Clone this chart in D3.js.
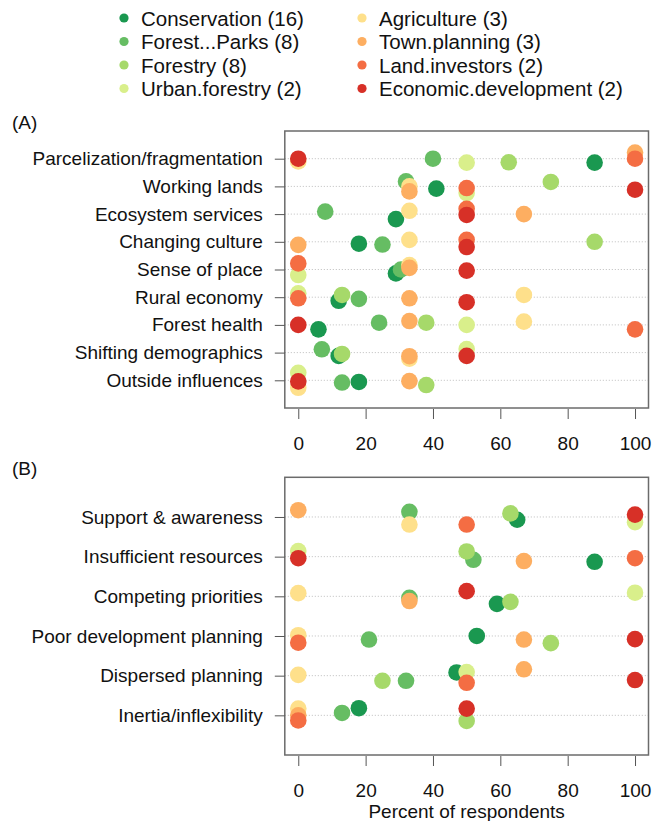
<!DOCTYPE html>
<meta charset="utf-8">
<style>
body { margin: 0; background: #fff; }
text { font-family: "Liberation Sans", Arial, sans-serif; fill: #111; }
.grid line { stroke: #bdbdbd; stroke-dasharray: 1,2; }
.frame { fill: none; stroke: #6b6b6b; stroke-width: 1.5px; }
.tick line { stroke: #555; }
</style>
<svg width="665" height="821"></svg>
<script src="https://d3js.org/d3.v7.min.js"></script>
<script>

// groups and their colours (legend order = draw order)
var groups = ["Conservation (16)", "Forest...Parks (8)", "Forestry (8)", "Urban.forestry (2)",
              "Agriculture (3)", "Town.planning (3)", "Land.investors (2)", "Economic.development (2)"];
var palette = ["#1a9850", "#66bd63", "#a6d96a", "#d9ef8b", "#fee08b", "#fdae61", "#f46d43", "#d73027"];

// panel A
var catsA = ["Parcelization/fragmentation", "Working lands", "Ecosystem services", "Changing culture",
             "Sense of place", "Rural economy", "Forest health", "Shifting demographics", "Outside influences"];
// percent of respondents, one array per group, one value per row (null = not shown)
var valsA = [
  [88, 41, 29, 18, 29, 12, 6, 12, 18],
  [40, 32, 8, 25, 30.5, 18, 24, 7, 13],
  [62.5, 75, null, 88, null, 13, 38, 13, 38],
  [50, 50, null, null, 0, 0, 50, 50, 0],
  [0, 33, 33, 33, 33, 67, 67, 33, 0],
  [100, 33, 67, 0, 33, 33, 33, 33, 33],
  [100, 50, 50, 50, 0, 0, 100, null, null],
  [0, 100, 50, 50, 50, 50, 0, 50, 0]
];
// vertical jitter, in row units
var jitA = [
  [0.14, 0.08, 0.18, 0.07, 0.14, 0.13, 0.16, 0.12, 0.06],
  [0, -0.18, -0.09, 0.1, 0, 0.06, -0.08, -0.12, 0.08],
  [0.13, -0.16, 0, 0, 0, -0.08, -0.08, 0.05, 0.17],
  [0.14, 0.24, 0, 0, 0.2, -0.14, 0, -0.13, -0.27],
  [0.1, 0, -0.12, -0.07, -0.16, -0.08, -0.12, 0.22, 0.27],
  [-0.22, 0.18, 0, 0.11, -0.06, 0.04, -0.14, 0.13, 0.03],
  [0, 0.06, -0.19, -0.07, -0.22, 0.04, 0.16, 0, 0],
  [0, 0.12, 0.03, 0.19, 0.04, 0.18, 0, 0.12, 0.04]
];

// panel B
var catsB = ["Support & awareness", "Insufficient resources", "Competing priorities",
             "Poor development planning", "Dispersed planning", "Inertia/inflexibility"];
var valsB = [
  [65, 88, 59, 53, 47, 18],
  [33, 52, 33, 21, 32, 13],
  [63, 50, 63, 75, 25, 50],
  [100, 0, 100, null, 50, null],
  [33, null, 0, 0, 0, 0],
  [0, 67, 33, 67, 67, 0],
  [50, 100, null, 0, 50, 0],
  [100, 0, 50, 100, 100, 50]
];
var jitB = [
  [0.07, 0.13, 0.19, 0, -0.08, -0.18],
  [-0.13, 0.08, 0.04, 0.09, 0.13, -0.06],
  [-0.09, -0.13, 0.14, 0.18, 0.13, 0.14],
  [0.13, -0.14, -0.09, 0, -0.09, 0],
  [0.19, 0, -0.08, -0.02, -0.02, -0.17],
  [-0.17, 0.11, 0.12, 0.09, -0.16, 0],
  [0.19, 0.04, 0, 0.17, 0.18, 0.13],
  [-0.06, 0.04, -0.13, 0.08, 0.11, -0.17]
];

var xTicks = [0, 20, 40, 60, 80, 100];

var svg = d3.select("svg");
var fs = 19;

var x = d3.scaleLinear().domain([-4, 104]).range([284.8, 648.5]);

function panel(cats, vals, jit, top, bottom, tag) {
  var y = d3.scaleLinear().domain([0, cats.length + 1]).range([top, bottom]);
  var g = svg.append("g");

  g.append("text")
      .attr("x", 12).attr("y", top - 9)
      .attr("dominant-baseline", "central")
      .style("font-size", fs + "px")
      .text(tag);

  g.append("g").attr("class", "grid")
    .selectAll("line")
    .data(cats)
    .enter().append("line")
      .attr("x1", x.range()[0]).attr("x2", x.range()[1])
      .attr("y1", function(d, i) { return y(i + 1); })
      .attr("y2", function(d, i) { return y(i + 1); });

  var pts = [];
  vals.forEach(function(row, gi) {
    row.forEach(function(v, ri) {
      if (v !== null) pts.push({ g: gi, v: v, r: ri + 1 + jit[gi][ri] });
    });
  });

  g.append("g")
    .selectAll("circle")
    .data(pts)
    .enter().append("circle")
      .attr("cx", function(d) { return x(d.v); })
      .attr("cy", function(d) { return y(d.r); })
      .attr("r", 8.3)
      .attr("fill", function(d) { return palette[d.g]; });

  g.append("rect").attr("class", "frame")
      .attr("x", x.range()[0]).attr("y", top)
      .attr("width", x.range()[1] - x.range()[0])
      .attr("height", bottom - top);

  var yAxis = d3.axisLeft(y)
      .tickValues(d3.range(1, cats.length + 1))
      .tickFormat(function(d) { return cats[d - 1]; })
      .tickSize(10).tickPadding(12);
  var ya = g.append("g")
      .attr("transform", "translate(" + x.range()[0] + ",0)")
      .call(yAxis);
  ya.select(".domain").remove();
  ya.selectAll("text").style("font-size", fs + "px").attr("fill", "#111")
      .attr("font-family", null);

  var xAxis = d3.axisBottom(x)
      .tickValues(xTicks)
      .tickSize(10).tickPadding(18);
  var xa = g.append("g")
      .attr("transform", "translate(0," + (bottom + 1) + ")")
      .call(xAxis);
  xa.select(".domain").remove();
  xa.selectAll("text").style("font-size", fs + "px").attr("fill", "#111")
      .attr("font-family", null);
}

panel(catsA, valsA, jitA, 131, 408, "(A)");
panel(catsB, valsB, jitB, 477.3, 755, "(B)");

svg.append("text")
    .attr("x", (x.range()[0] + x.range()[1]) / 2)
    .attr("y", 811)
    .attr("text-anchor", "middle")
    .attr("dominant-baseline", "central")
    .style("font-size", fs + "px")
    .text("Percent of respondents");

// legend, two columns of four
var legend = svg.append("g")
  .selectAll("g")
  .data(groups)
  .enter().append("g")
    .attr("transform", function(d, i) {
      return "translate(" + (i < 4 ? 124 : 362) + "," + (18 + (i % 4) * 23.5) + ")";
    });

legend.append("circle")
    .attr("r", 4.6)
    .attr("fill", function(d, i) { return palette[i]; });

legend.append("text")
    .attr("x", 17)
    .attr("dominant-baseline", "central")
    .style("font-size", "20.5px")
    .text(function(d) { return d; });

</script>
